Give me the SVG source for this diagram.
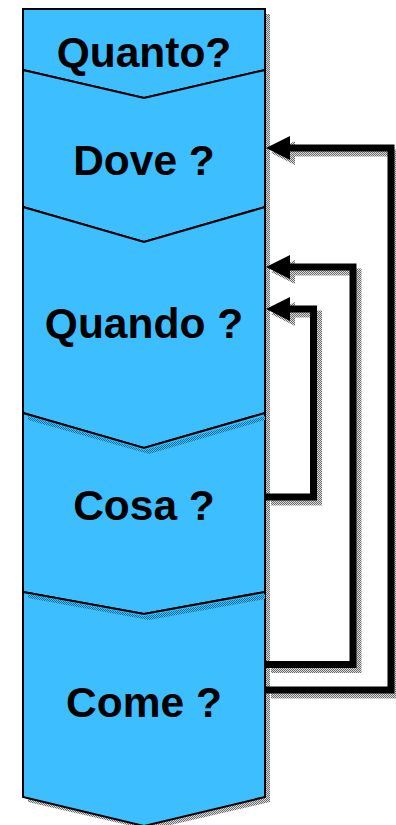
<svg xmlns="http://www.w3.org/2000/svg" width="396" height="825" viewBox="0 0 396 825">
<defs>
<pattern id="gray" width="2" height="2" patternUnits="userSpaceOnUse">
<rect width="2" height="2" fill="#d8d8d8"/>
<rect width="1" height="1" fill="#6e6e6e"/>
<rect x="1" y="1" width="1" height="1" fill="#6e6e6e"/>
</pattern>
<pattern id="blueshade" width="2" height="2" patternUnits="userSpaceOnUse">
<rect width="2" height="2" fill="#3cbeff"/>
<rect width="1" height="1" fill="#1a6f94"/>
<rect x="1" y="1" width="1" height="1" fill="#1a6f94"/>
</pattern>
<style>
.sec{fill:#3cbeff;stroke:#000;stroke-width:2;stroke-linejoin:miter}
.lbl{font-family:"Liberation Sans",Arial,sans-serif;font-weight:bold;font-size:42.5px;fill:#000;text-anchor:middle}
.conn{fill:none;stroke:#000;stroke-width:7;stroke-linejoin:miter}
.connsh{fill:none;stroke:url(#gray);stroke-width:7;stroke-linejoin:miter}
.head{fill:#000}
.headsh{fill:url(#gray)}
</style>
</defs>
<rect width="396" height="825" fill="#fff"/>
<!-- column shadow -->
<polygon points="28,14 270,14 270,802 149,830 28,802" fill="url(#gray)"/>

<g id="quanto">
<polygon class="sec" points="23,9 265,9 265,70 144,98 23,70"/>
<text class="lbl" x="144" y="67">Quanto?</text>
</g>
<g id="dove">
<polygon class="sec" points="23,70 144,98 265,70 265,207 144,242 23,207"/>
<text class="lbl" x="144" y="175">Dove ?</text>
</g>
<g id="quando">
<polygon class="sec" points="23,207 144,242 265,207 265,413 144,448 23,413"/>
<text class="lbl" x="144" y="338">Quando ?</text>
</g>
<g id="cosa">
<polygon class="sec" points="23,413 144,448 265,413 265,592 144,614 23,592"/>
<polygon points="28,416 144,450 265,416 265,420 149,454 28,420" fill="url(#blueshade)" stroke="none"/>
<text class="lbl" x="144" y="520">Cosa ?</text>
</g>
<g id="come">
<polygon class="sec" points="23,592 144,614 265,592 265,797 144,826 23,797"/>
<polygon points="28,594 144,616 265,594 265,599 149,620 28,598" fill="url(#blueshade)" stroke="none"/>
<text class="lbl" x="144" y="717">Come ?</text>
</g>
<g id="connectors">
<g transform="translate(5,5)">
<path class="connsh" d="M266,690 H391 V148 H288"/>
<polygon class="headsh" points="266,148 290,136 290,160"/>
<path class="connsh" d="M266,664.5 H353 V267 H288"/>
<polygon class="headsh" points="266,267 290,255 290,279"/>
<path class="connsh" d="M266,497 H313.5 V309 H288"/>
<polygon class="headsh" points="266,309 290,297 290,321"/>
</g>
<path class="conn" d="M266,690 H391 V148 H288"/>
<polygon class="head" points="266,148 290,136 290,160"/>
<path class="conn" d="M266,664.5 H353 V267 H288"/>
<polygon class="head" points="266,267 290,255 290,279"/>
<path class="conn" d="M266,497 H313.5 V309 H288"/>
<polygon class="head" points="266,309 290,297 290,321"/>
</g>
</svg>
